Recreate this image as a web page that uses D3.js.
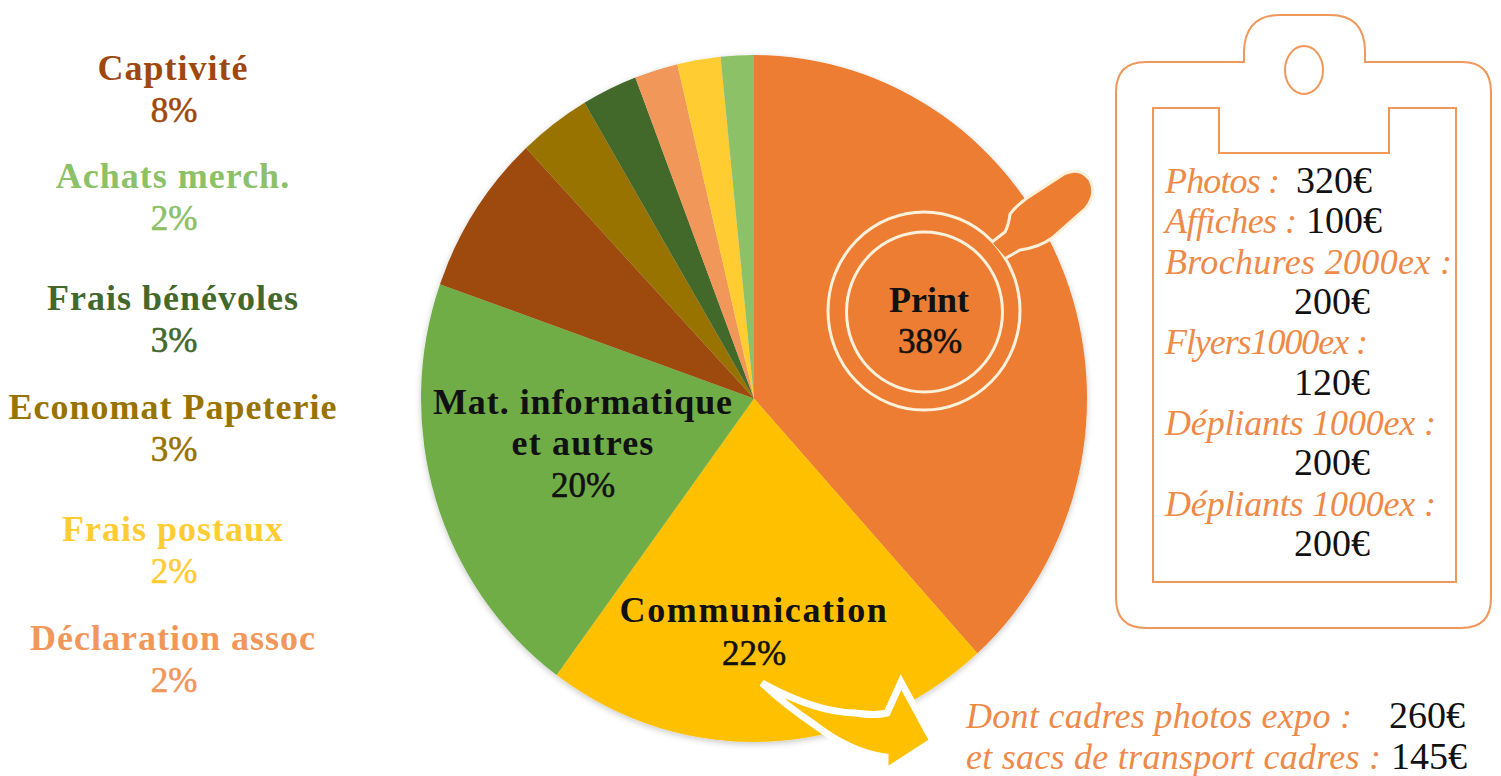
<!DOCTYPE html>
<html>
<head>
<meta charset="utf-8">
<script src="https://cdn.jsdelivr.net/npm/d3@7"></script>
<style>
  html, body { margin: 0; background: #fff; }
  svg { display: block; }
  text { font-family: "Liberation Serif", serif; }
</style>
</head>
<body>
<div id="chart"></div>
<script>
// slices, clockwise from 12 o'clock. widths, labels are the printed rounded ones
const sliceNames = ["Print", "Communication", "Mat. informatique et autres", "Captivité", "Economat Papeterie", "Frais bénévoles", "Déclaration assoc", "Frais postaux", "Achats merch."];
const sliceValues = [38.3, 21.8, 20.3, 7.6, 3.5, 2.7, 2.1, 2.1, 1.6];
const slicePercents = ["38%", "22%", "20%", "8%", "3%", "3%", "2%", "2%", "2%"];
const sliceColors = ["#ed7d31", "#ffc000", "#70ad47", "#9e480e", "#997300", "#43682b", "#f1975a", "#ffcd33", "#8cc168"];

// left hand list, top to bottom
const legendNames = ["Captivité", "Achats merch.", "Frais bénévoles", "Economat Papeterie", "Frais postaux", "Déclaration assoc"];

const costLabels = ["Photos :", "Affiches :", "Brochures 2000ex :", "", "Flyers1000ex :", "", "Dépliants 1000ex :", "", "Dépliants 1000ex :", ""];
const costValues = ["320€", "100€", "", "200€", "", "120€", "", "200€", "", "200€"];
const frameLabels = ["Dont cadres photos expo :", "et sacs de transport cadres :"];
const frameValues = ["260€", "145€"];

const width = 1501, height = 776;
const orange = "#ed7d31", cream = "#fdf1dc", ink = "#111";

const svg = d3.select("#chart")
  .append("svg")
  .attr("width", width)
  .attr("height", height)
  .attr("viewBox", [0, 0, width, height]);

const defs = svg.append("defs");
defs.append("filter").attr("id", "soft")
  .attr("x", "-5%").attr("y", "-5%").attr("width", "110%").attr("height", "110%")
  .append("feDropShadow")
  .attr("dx", 0).attr("dy", 2).attr("stdDeviation", 3)
  .attr("flood-color", "#000").attr("flood-opacity", 0.22);

// the pie in the picture is a bit taller than wide
let rx = 333, ry = 343.5;
let pieG = svg.append("g")
  .attr("transform", `translate(754,398.5) scale(1,${ry / rx})`)
  .attr("filter", "url(#soft)");

let pie = d3.pie().sort(null).value(d => d)(sliceValues);
let arc = d3.arc().innerRadius(0).outerRadius(rx);

pieG.selectAll("path")
  .data(pie)
  .join("path")
  .attr("d", arc)
  .attr("fill", (d, i) => sliceColors[i]);

// magnifier on the Print slice, handle goes on top so it cuts the outer ring
let glass = svg.append("g");
glass.append("ellipse")
  .attr("cx", 924).attr("cy", 311).attr("rx", 96).attr("ry", 99)
  .attr("fill", "none").attr("stroke", cream).attr("stroke-width", 3);
glass.append("ellipse")
  .attr("cx", 924.5).attr("cy", 312).attr("rx", 78).attr("ry", 80)
  .attr("fill", "none").attr("stroke", cream).attr("stroke-width", 3);
glass.append("path")
  .attr("d", "M992,242 L1005,232 Q1009,224 1010,214 Q1015,207 1027,198 L1064,174 Q1080,166 1090,180 Q1097,194 1086,208 L1052,238 Q1040,247 1020,250 L1006,258")
  .attr("fill", orange)
  .attr("stroke", cream)
  .attr("stroke-width", 3);

// arrow coming out of the Communication slice
svg.append("path")
  .attr("d", "M762,683 Q815,712 855,713 Q875,716 887,713 L901,682 L933,741 L885,772 L885,757 Q850,752 815,725 Q785,705 762,683 Z")
  .attr("fill", "#ffc000")
  .attr("stroke", "#fff")
  .attr("stroke-width", 7)
  .attr("stroke-linejoin", "miter");

// clipboard
let board = svg.append("g")
  .attr("fill", "none")
  .attr("stroke", orange)
  .attr("stroke-opacity", 0.8)
  .attr("stroke-width", 2);
board.append("path")
  .attr("d", "M1146,62 H1244 V50 Q1246,15 1280,15 H1330 Q1364,15 1365,50 V62 H1462 Q1491,62 1491,92 V598 Q1491,628 1461,628 H1146 Q1116,628 1116,598 V92 Q1116,62 1146,62 Z");
board.append("ellipse")
  .attr("cx", 1304).attr("cy", 70).attr("rx", 19).attr("ry", 24);
board.append("path")
  .attr("d", "M1219,108 V153 H1389 V108 H1456 V582 H1153 V108 Z");

// names are set wide in the original, percents lighter
function nameText(x, y, str, color, spacing) {
  return svg.append("text")
    .attr("x", x).attr("y", y)
    .attr("text-anchor", "middle")
    .attr("font-size", 36)
    .attr("font-weight", "bold")
    .attr("letter-spacing", spacing)
    .attr("fill", color)
    .text(str);
}
function pctText(x, y, str, color) {
  return svg.append("text")
    .attr("x", x).attr("y", y)
    .attr("text-anchor", "middle")
    .attr("font-size", 35)
    .attr("fill", color)
    .attr("stroke", color)
    .attr("stroke-width", 0.6)
    .text(str);
}

nameText(929, 312, sliceNames[0], ink, 0);
pctText(930, 353, slicePercents[0], ink);
nameText(754, 622, sliceNames[1], ink, 1.6);
pctText(754, 665, slicePercents[1], ink);
nameText(583, 414, "Mat. informatique", ink, 0.95);
nameText(583, 455, "et autres", ink, 1.2);
pctText(583, 497, slicePercents[2], ink);

// left list, name and percent taken from the slice arrays
const legendY = [80, 188, 310, 419, 541, 650];
legendNames.forEach((name, k) => {
  let i = sliceNames.indexOf(name);
  nameText(173, legendY[k], name, sliceColors[i], 1);
  pctText(174, legendY[k] + 42, slicePercents[i], sliceColors[i]);
});

// costs inside the clipboard
let row = d3.scalePoint().domain(d3.range(costLabels.length)).range([193, 556]);
const labelW = [115, 132, 287, 0, 203, 0, 271, 0, 271, 0];
costLabels.forEach((t, i) => {
  if (t) svg.append("text")
    .attr("x", 1165).attr("y", row(i))
    .attr("font-size", 36).attr("font-style", "italic")
    .attr("textLength", labelW[i])
    .attr("fill", "#ee8a48")
    .text(t);
});
const costX = [1296, 1306, 0, 1294, 0, 1294, 0, 1294, 0, 1294];
costValues.forEach((t, i) => {
  if (t) svg.append("text")
    .attr("x", costX[i]).attr("y", row(i))
    .attr("font-size", 38)
    .attr("fill", ink)
    .text(t);
});

// note beside the arrow
const noteY = [728, 769], noteW = [386, 415], noteEnd = [1465, 1467];
frameLabels.forEach((t, i) => {
  svg.append("text")
    .attr("x", 966).attr("y", noteY[i])
    .attr("font-size", 36).attr("font-style", "italic")
    .attr("textLength", noteW[i])
    .attr("fill", "#ee8a48")
    .text(t);
  svg.append("text")
    .attr("x", noteEnd[i]).attr("y", noteY[i])
    .attr("text-anchor", "end")
    .attr("font-size", 38)
    .attr("fill", ink)
    .text(frameValues[i]);
});
</script>
</body>
</html>
